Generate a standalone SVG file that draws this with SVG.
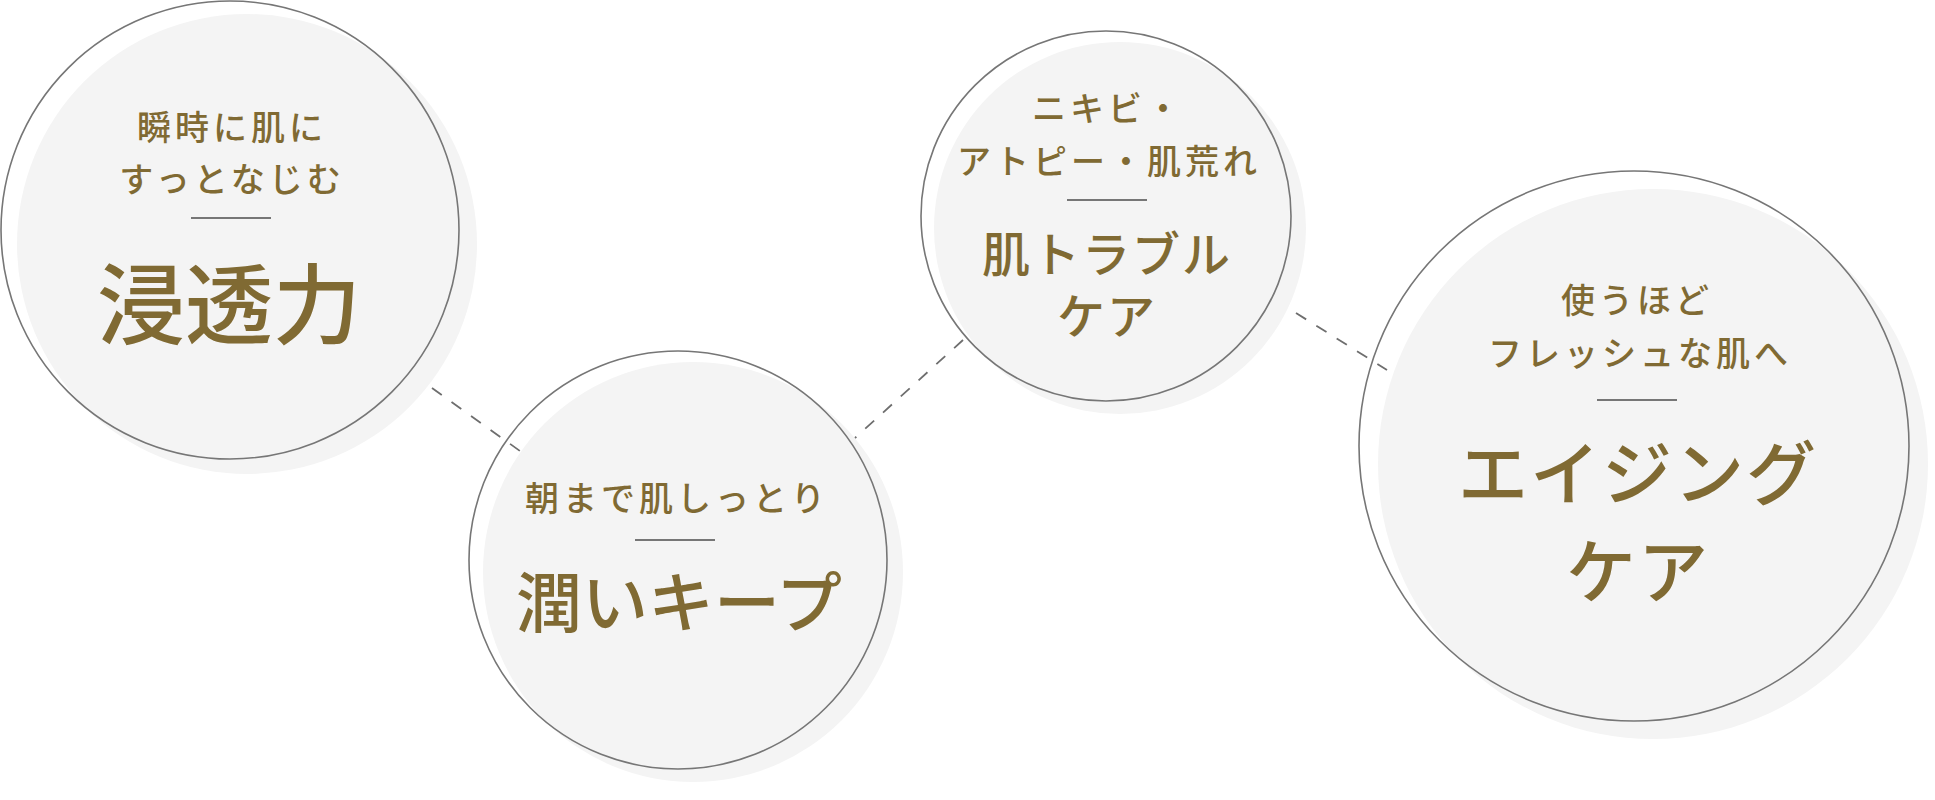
<svg xmlns="http://www.w3.org/2000/svg" width="1935" height="800" viewBox="0 0 1935 800">
<style>
.shadow{fill:#f4f4f4;}
.ring{fill:none;stroke:#767676;stroke-width:1.6;}
.rule{stroke:#767676;stroke-width:2;}
.sub{font-family:"Noto Sans CJK JP","Noto Sans CJK SC",sans-serif;font-size:34px;font-weight:500;fill:#806a33;letter-spacing:4px;text-anchor:middle;}
.main{font-family:"Noto Sans CJK JP","Noto Sans CJK SC",sans-serif;font-weight:500;fill:#806a33;text-anchor:middle;}
.conn{fill:none;stroke:#6e6e6e;stroke-width:1.8;stroke-dasharray:12 12;}
</style>
<rect width="1935" height="800" fill="#ffffff"/>
<g id="node-shinto">
<circle class="shadow" cx="247" cy="244" r="230"/>
<circle class="ring" cx="230" cy="230" r="229"/>
<text class="sub" x="232" y="140">瞬時に肌に</text>
<text class="sub" x="232" y="192">すっとなじむ</text>
<line class="rule" x1="191" y1="218" x2="271" y2="218"/>
<text class="main" x="229" y="337" font-size="88">浸透力</text>
</g>
<g id="node-uruoi">
<circle class="shadow" cx="693" cy="572" r="210"/>
<circle class="ring" cx="678" cy="560" r="209"/>
<text class="sub" x="677" y="511">朝まで肌しっとり</text>
<line class="rule" x1="635" y1="540" x2="715" y2="540"/>
<text class="main" x="679" y="627" font-size="66">潤いキープ</text>
</g>
<g id="node-hada">
<circle class="shadow" cx="1120" cy="228" r="186"/>
<circle class="ring" cx="1106" cy="216" r="185"/>
<text class="sub" x="1108" y="121">ニキビ・</text>
<text class="sub" x="1109" y="174">アトピー・肌荒れ</text>
<line class="rule" x1="1067" y1="200" x2="1147" y2="200"/>
<text class="main" x="1107" y="272" font-size="48" letter-spacing="2">肌トラブル</text>
<text class="main" x="1107" y="334" font-size="48" letter-spacing="2">ケア</text>
</g>
<g id="node-aging">
<circle class="shadow" cx="1653" cy="464" r="275"/>
<circle class="ring" cx="1634" cy="446" r="275"/>
<text class="sub" x="1637" y="313">使うほど</text>
<text class="sub" x="1640" y="366">フレッシュな肌へ</text>
<line class="rule" x1="1597" y1="400" x2="1677" y2="400"/>
<text class="main" x="1638" y="500" font-size="70" letter-spacing="2">エイジング</text>
<text class="main" x="1638" y="598" font-size="70" letter-spacing="2">ケア</text>
</g>
<g id="connectors">
<line class="conn" x1="432" y1="388" x2="520" y2="451"/>
<line class="conn" x1="963" y1="340" x2="855" y2="438"/>
<line class="conn" x1="1296" y1="313" x2="1387" y2="370"/>
</g>
</svg>
